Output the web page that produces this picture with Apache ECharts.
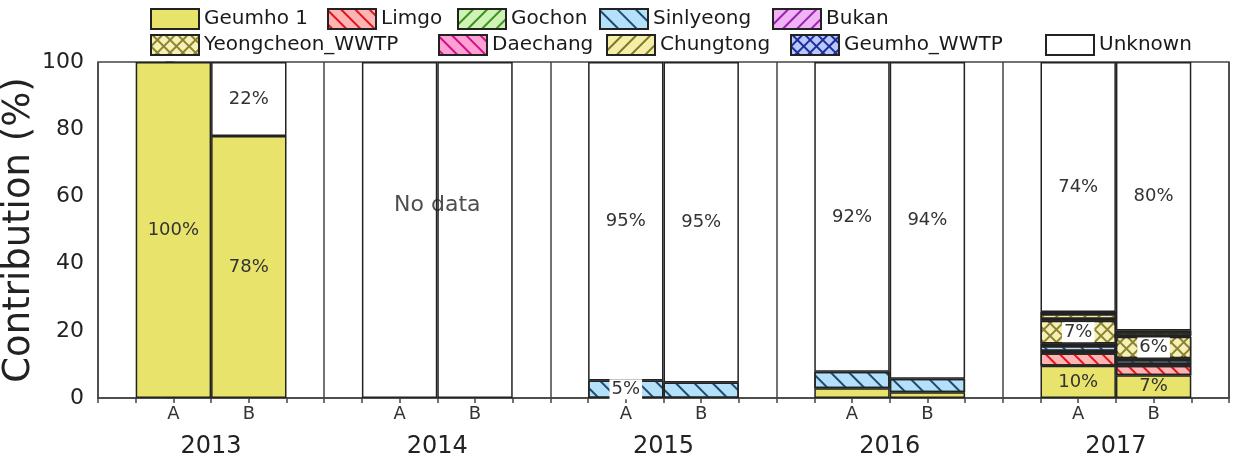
<!doctype html>
<html>
<head>
<meta charset="UTF-8">
<title>Contribution</title>
<script src="https://cdn.jsdelivr.net/npm/echarts@6/dist/echarts.min.js"></script>
<style>
  html, body { margin: 0; padding: 0; background: #fff; }
  #chart { width: 1245px; height: 456px; }
</style>
</head>
<body>
<div id="chart"></div>
<script>
// data
var years = ['2013', '2014', '2015', '2016', '2017'];
// x slots: an empty slot between the A/B pairs of each year
var slots = ['', 'A', 'B', '', 'A', 'B', '', 'A', 'B', '', 'A', 'B', '', 'A', 'B', ''];
var barSlot = [1, 2, 4, 5, 7, 8, 10, 11, 13, 14];

// 2013A, 2013B, 2014A, 2014B, 2015A, 2015B, 2016A, 2016B, 2017A, 2017B
var geumho1    = [100, 78, 0, 0, 0, 0, 2.9, 1.7, 9.6, 6.8];
var limgo      = [0, 0, 0, 0, 0, 0, 0, 0, 3.7, 2.8];
var gochon     = [0, 0, 0, 0, 0, 0, 0, 0, 0.7, 0.5];
var sinlyeong  = [0, 0, 0, 0, 5.2, 4.6, 4.9, 4.0, 1.5, 1.2];
var bukan      = [0, 0, 0, 0, 0, 0, 0, 0, 0.7, 0.5];
var yeongcheon = [0, 0, 0, 0, 0, 0, 0, 0, 6.8, 6.4];
var daechang   = [0, 0, 0, 0, 0, 0, 0, 0, 0.5, 0.3];
var chungtong  = [0, 0, 0, 0, 0, 0, 0, 0, 1.5, 1.1];
var geumhoWwtp = [0, 0, 0, 0, 0, 0, 0, 0, 0.6, 0.5];
var unknown    = [0, 22, 100, 100, 94.8, 95.4, 92.2, 94.3, 74.4, 79.9];

// which segments carry a % label: [series, bar index, boxed]
var labelled = [
  ['Geumho 1', 0], ['Geumho 1', 1], ['Geumho 1', 8], ['Geumho 1', 9],
  ['Unknown', 1], ['Unknown', 4], ['Unknown', 5], ['Unknown', 6], ['Unknown', 7], ['Unknown', 8], ['Unknown', 9],
  ['Sinlyeong', 4, true], ['Yeongcheon_WWTP', 8, true], ['Yeongcheon_WWTP', 9, true]
];

// 2014 has no measurements: note sits between its two bars
var noData = [[3.5, 57.5]];

var FONT = 'DejaVu Sans';

function hatch(line, rot, gap) {
  return { symbol: 'rect', symbolSize: 1, color: line, dashArrayX: [1, 0], dashArrayY: [1.5, gap || 8], rotation: rot };
}
function cross(fill) {
  return { symbol: 'rect', symbolSize: 1, color: fill, dashArrayX: [7, 1.2], dashArrayY: [7, 1.2], rotation: Math.PI / 4 };
}
var BACK = Math.PI / 4;   // "\\\" strokes
var FWD = -Math.PI / 4;   // "///" strokes

var sources = [
  { name: 'Geumho 1', data: geumho1, color: '#E8E36A' },
  { name: 'Limgo', data: limgo, color: '#FFB4B4', decal: hatch('#E0141C', BACK) },
  { name: 'Gochon', data: gochon, color: '#CFF3B4', decal: hatch('#3A9020', FWD) },
  { name: 'Sinlyeong', data: sinlyeong, color: '#B4E0FA', decal: hatch('#1E4A72', BACK, 11) },
  { name: 'Bukan', data: bukan, color: '#F0B4F6', decal: hatch('#9A20B0', FWD) },
  { name: 'Yeongcheon_WWTP', data: yeongcheon, color: '#8A8430', decal: cross('#F6F0B6') },
  { name: 'Daechang', data: daechang, color: '#FFA0D2', decal: hatch('#D0108A', BACK) },
  { name: 'Chungtong', data: chungtong, color: '#F4EEA8', decal: hatch('#7E7628', FWD) },
  { name: 'Geumho_WWTP', data: geumhoWwtp, color: '#1E2E96', decal: cross('#B8C8FF') },
  { name: 'Unknown', data: unknown, color: '#FFFFFF' }
];

function findLabel(name, i) {
  for (var k = 0; k < labelled.length; k++) {
    if (labelled[k][0] === name && labelled[k][1] === i) return labelled[k];
  }
  return null;
}

var series = sources.map(function (s) {
  var data = slots.map(function () { return '-'; });
  s.data.forEach(function (v, i) {
    var item = { value: v === 0 ? '-' : v };
    var lab = findLabel(s.name, i);
    if (lab) {
      item.label = { show: true };
      if (lab[2]) { item.label.backgroundColor = '#fff'; item.label.padding = [1, 2]; }
    }
    data[barSlot[i]] = item;
  });
  return {
    name: s.name,
    type: 'bar',
    stack: 'total',
    barWidth: '100%',
    itemStyle: { color: s.color, borderColor: '#222', borderWidth: 1.5, decal: s.decal },
    label: {
      show: false,
      position: 'inside',
      color: '#333',
      fontFamily: FONT,
      fontSize: 18,
      formatter: function (p) { return Math.round(p.value) + '%'; }
    },
    emphasis: { disabled: true },
    data: data
  };
});

series.push({
  type: 'scatter', xAxisIndex: 1, symbolSize: 0, silent: true,
  label: { show: true, position: 'inside', formatter: 'No data', color: '#222', fontFamily: FONT, fontSize: 22 },
  data: noData
});

// legend items placed one by one, two rows
var legendLeft = [145, 322, 452, 594, 767, 145, 433, 601, 785, 1040];
var legendText = { fontFamily: FONT, fontSize: 20, color: '#1a1a1a' };
var legends = sources.map(function (s, i) {
  return {
    data: [s.name], left: legendLeft[i], top: i < 5 ? 3 : 29,
    icon: 'rect', itemWidth: 48, itemHeight: 20, itemGap: 0,
    textStyle: legendText, selectedMode: false
  };
});

var axisColor = '#444';

var chart = echarts.init(document.getElementById('chart'));
chart.setOption({
  animation: false,
  legend: legends,
  grid: { left: 98, right: 16, top: 62, bottom: 58, outerBoundsMode: 'none', containLabel: false, show: true, borderColor: axisColor, borderWidth: 1.5 },
  xAxis: [
    {
      type: 'category', data: slots, boundaryGap: false,
      axisLine: { show: true, lineStyle: { color: axisColor, width: 1.5 } },
      axisTick: { show: false },
      splitLine: { show: false },
      axisLabel: { interval: 0, margin: 7, fontFamily: FONT, fontSize: 18, color: '#333' }
    },
    {
      // tick marks at bar edges, bar centres and year dividers
      type: 'value', min: -1, max: 14, interval: 0.5, position: 'bottom',
      axisLine: { show: false },
      axisTick: { show: true, length: 5, lineStyle: { color: axisColor, width: 1.5 } },
      axisLabel: { show: false },
      splitLine: { show: false }
    },
    {
      type: 'category', data: years, position: 'bottom',
      axisLine: { show: false }, axisTick: { show: false },
      splitLine: { show: true, interval: 0, lineStyle: { color: axisColor, width: 1.5 } },
      axisLabel: { margin: 37, fontFamily: FONT, fontSize: 24, color: '#222' }
    }
  ],
  yAxis: {
    type: 'value', min: 0, max: 100, interval: 20,
    name: 'Contribution (%)', nameLocation: 'middle', nameGap: 60, nameMoveOverlap: false,
    nameTextStyle: { fontFamily: FONT, fontSize: 37, color: '#222' },
    axisLine: { show: true, lineStyle: { color: axisColor, width: 1.5 } },
    axisTick: { show: true, length: 8, lineStyle: { color: axisColor, width: 1.5 } },
    minorTick: { show: true, splitNumber: 2, length: 4, lineStyle: { color: axisColor } },
    splitLine: { show: false },
    axisLabel: { margin: 14, fontFamily: FONT, fontSize: 22, color: '#222' }
  },
  series: series
});
</script>
</body>
</html>
